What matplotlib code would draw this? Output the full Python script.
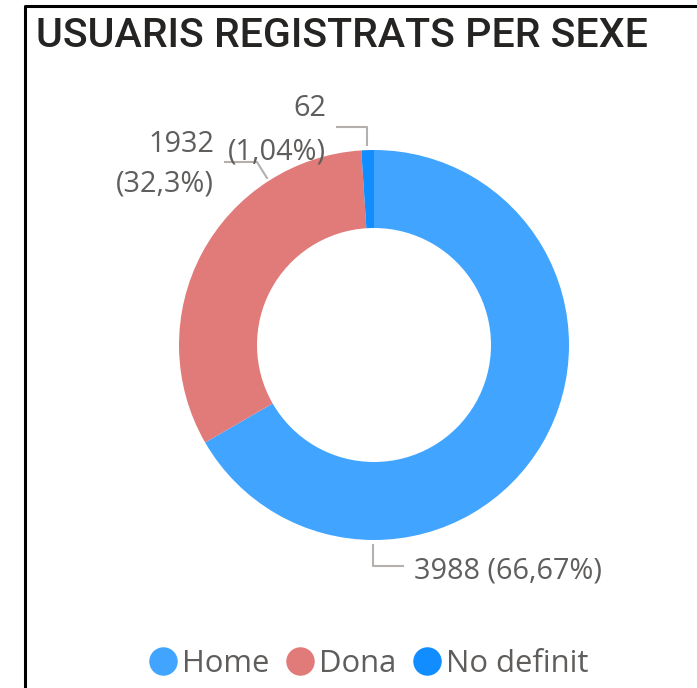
import matplotlib.pyplot as plt
from matplotlib.lines import Line2D

# dades del grafic
categories = ['Home', 'Dona', 'No definit']
valors = [3988, 1932, 62]
percentatges = ['66,67%', '32,3%', '1,04%']
colors = ['#41A5FF', '#E07B7A', '#118DFF']

W, H = 697, 688
fig = plt.figure(figsize=(W / 100, H / 100), dpi=100)
ax = fig.add_axes([0, 0, 1, 1])
ax.set_xlim(0, W)
ax.set_ylim(0, H)
ax.axis('off')


def py(y):
    # coordenada y en pixels (des de dalt) -> coordenada de l'eix
    return H - y


cx, cy, r = 374, 345, 195
ax.pie(valors, colors=colors, center=(cx, py(cy)), radius=r,
       startangle=90, counterclock=False,
       wedgeprops=dict(width=78, linewidth=0))
ax.set_xlim(0, W)
ax.set_ylim(0, H)

# marc
ax.plot([25, 25, W], [0, py(6), py(6)], color='black', lw=2.2, clip_on=False)

# titol
ax.text(36, py(36), 'USUARIS REGISTRATS PER SEXE', fontsize=29.6, fontweight='medium',
        family=['Roboto', 'DejaVu Sans'], color='#252423',
        va='center', ha='left')

gris = '#605E5C'
linia = '#B3B0AD'
lab_font = dict(fontsize=20.8, family=['Open Sans', 'DejaVu Sans'], color=gris)

# etiquetes amb linies guia
ax.plot([373, 373, 403], [py(545), py(566), py(566)], color=linia, lw=1.5)
ax.text(414, py(571), f'{valors[0]} ({percentatges[0]})', ha='left', va='center', **lab_font)

ax.plot([267, 257, 225], [py(178), py(162), py(162)], color=linia, lw=1.5)
ax.text(214, py(145), f'{valors[1]}', ha='right', va='center', **lab_font)
ax.text(214, py(184), f'({percentatges[1]})', ha='right', va='center', **lab_font)

ax.plot([367, 367, 337], [py(145), py(127), py(127)], color=linia, lw=1.5)
ax.text(326, py(108), f'{valors[2]}', ha='right', va='center', **lab_font)
ax.text(326, py(152), f'({percentatges[2]})', ha='right', va='center', **lab_font)

# llegenda
handles = [Line2D([], [], marker='o', ls='', color=c, markersize=19.5) for c in colors]
leg = ax.legend(handles, categories, loc='center', bbox_to_anchor=(368 / W, 1 - 664 / H),
                ncol=3, frameon=False, handletextpad=0.1, columnspacing=0.5,
                prop=dict(family=['Open Sans', 'DejaVu Sans'], size=22.3), handlelength=1.0,
                borderpad=0, borderaxespad=0)
for t in leg.get_texts():
    t.set_color(gris)

plt.savefig('out.png', dpi=100)
